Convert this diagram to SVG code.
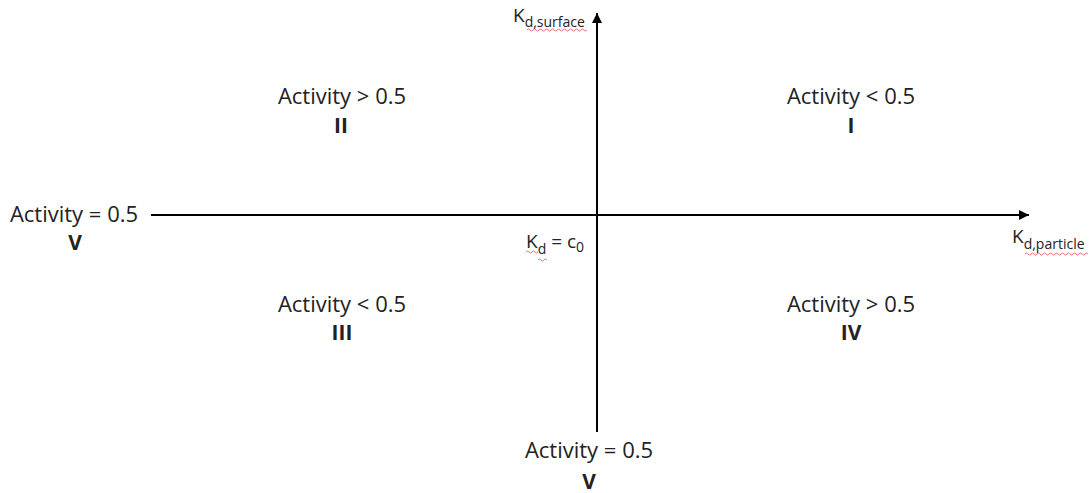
<svg xmlns="http://www.w3.org/2000/svg" width="1090" height="493" viewBox="0 0 1090 493">
  <style>
    text { font-family: "Open Sans", "Liberation Sans", sans-serif; fill: #222; }
    .lbl { font-size: 22px; text-anchor: middle; }
    .num { font-size: 21px; font-weight: bold; text-anchor: middle; }
    .k { font-size: 19px; }
    .sub { font-size: 14px; }
    .axis { stroke: #000; stroke-width: 2; fill: none; }
    .squig { stroke: #e03a3a; stroke-width: 0.9; fill: none; opacity: 0.8; }
  </style>
  <defs>
    <marker id="arr" viewBox="0 0 10 10" refX="10" refY="5" markerWidth="5.5" markerHeight="5" orient="auto" markerUnits="strokeWidth">
      <path d="M0,0 L10,5 L0,10 z" fill="#000"/>
    </marker>
  </defs>
  <rect width="1090" height="493" fill="#fff"/>

  <g id="connectors">
    <line class="axis" x1="597" y1="432" x2="597" y2="13" marker-end="url(#arr)"/>
    <line class="axis" x1="151" y1="215" x2="1029" y2="215" marker-end="url(#arr)"/>
  </g>

  <g id="axis-y-label">
    <text x="513" y="22" class="k">K<tspan class="sub" dy="5">d,surface</tspan></text>
    <path class="squig" d="M527,30 q1.5,-2 3,0 t3,0 t3,0 t3,0 t3,0 t3,0 t3,0 t3,0 t3,0 t3,0 t3,0 t3,0 t3,0 t3,0 t3,0 t3,0 t3,0 t3,0 t3,0 t3,0"/>
  </g>

  <g id="axis-x-label">
    <text x="1012" y="243" class="k">K<tspan class="sub" dy="6">d,particle</tspan></text>
    <path class="squig" d="M1025,254 q1.5,-2 3,0 t3,0 t3,0 t3,0 t3,0 t3,0 t3,0 t3,0 t3,0 t3,0 t3,0 t3,0 t3,0 t3,0 t3,0 t3,0 t3,0 t3,0 t3,0 t3,0 t3,0"/>
  </g>

  <g id="origin">
    <text x="526" y="248" class="k">K<tspan class="sub" dy="6">d</tspan><tspan dy="-6"> = c</tspan><tspan class="sub" dy="4">0</tspan></text>
    <path class="squig" d="M526,252 q1.5,-2 3,0 t3,0 t3,0 t3,0"/>
    <path class="squig" d="M538,260 q1.5,-2 3,0 t3,0 t3,0"/>
  </g>

  <g id="quadrant-I">
    <text x="851" y="104" class="lbl">Activity &lt; 0.5</text>
    <text x="851" y="133" class="num">I</text>
  </g>

  <g id="quadrant-II">
    <text x="342" y="104" class="lbl">Activity &gt; 0.5</text>
    <text x="341" y="133" class="num">II</text>
  </g>

  <g id="quadrant-III">
    <text x="342" y="312" class="lbl">Activity &lt; 0.5</text>
    <text x="342" y="340" class="num">III</text>
  </g>

  <g id="quadrant-IV">
    <text x="851" y="312" class="lbl">Activity &gt; 0.5</text>
    <text x="851" y="340" class="num">IV</text>
  </g>

  <g id="region-V-left">
    <text x="74" y="222" class="lbl">Activity = 0.5</text>
    <text x="75" y="250" class="num">V</text>
  </g>

  <g id="region-V-bottom">
    <text x="589" y="458" class="lbl">Activity = 0.5</text>
    <text x="589" y="489" class="num">V</text>
  </g>
</svg>
